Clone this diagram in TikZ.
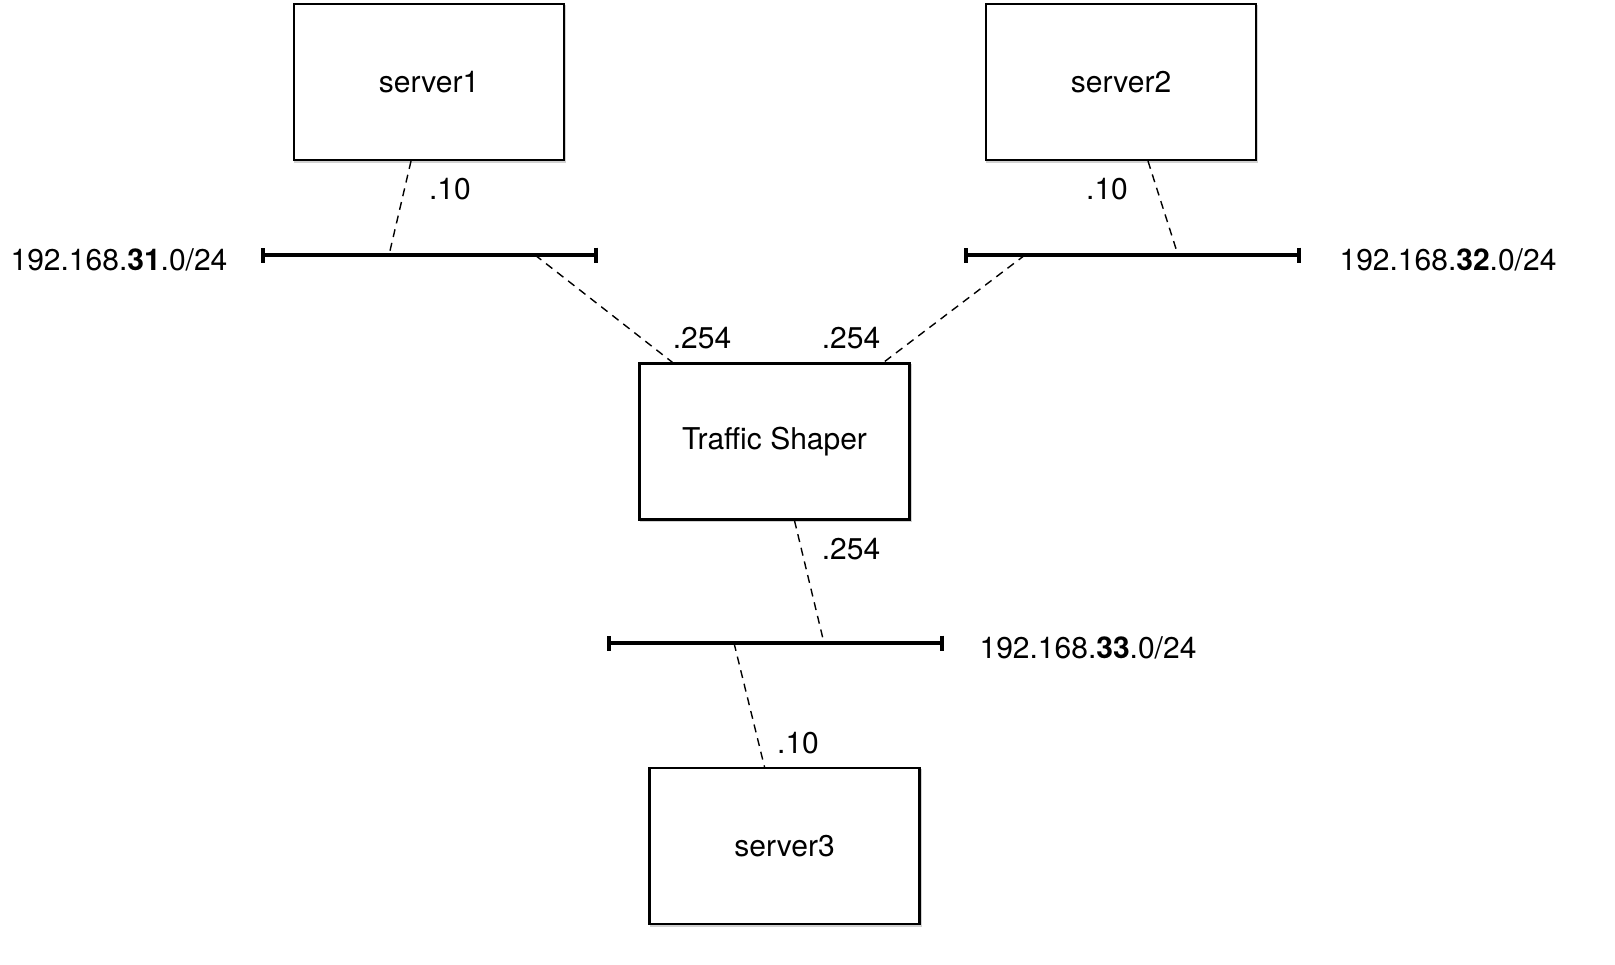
\documentclass[tikz,border=0pt]{standalone}
\usepackage{fontspec}
\setmainfont{TeX Gyre Heros}
\usetikzlibrary{arrows.meta}
\tikzset{host/.style={draw, line width=1.1pt, fill=white, minimum width=135pt, minimum height=78pt,
		preaction={fill=black!30, draw=black!18, line width=1pt, transform canvas={xshift=0.7pt, yshift=-0.9pt}}},
	bus/.style={line width=1.8pt, {Bar[width=7.5pt]}-{Bar[width=7.5pt]}},
	link/.style={draw, line width=0.7pt, dash pattern=on 4pt off 3pt},
	addr/.style={inner sep=0pt}}

\begin{document}
\begin{tikzpicture}[x=0.5pt, y=-0.5pt, font=\fontsize{15}{18}\selectfont]
		\useasboundingbox (0,0) rectangle (1615,964);
		% hosts
		\node[host] (server1) at (429,82) {server1};
		\node[host] (server2) at (1121,82) {server2};
		\node[host] (shaper) at (774.5,441.5) {Traffic Shaper};
		\node[host] (server3) at (784.5,846) {server3};
		
		% networks
		\coordinate (net1w) at (261,255); \coordinate (net1e) at (598,255);
		\coordinate (net2w) at (964,255); \coordinate (net2e) at (1301,255);
		\coordinate (net3w) at (607,643); \coordinate (net3e) at (944,643);
		\draw[bus] (net1w) -- (net1e);
		\draw[bus] (net2w) -- (net2e);
		\draw[bus] (net3w) -- (net3e);
		\node[addr] (lan1) at (119,260) {192.168.\textbf{31}.0/24};
		\node[addr] (lan2) at (1448,260) {192.168.\textbf{32}.0/24};
		\node[addr] (lan3) at (1088,648) {192.168.\textbf{33}.0/24};
		
		% links
		\coordinate (tap1a) at (389,255); \coordinate (tap1b) at (535,255);
		\coordinate (tap2a) at (1178,255); \coordinate (tap2b) at (1025,255);
		\coordinate (tap3a) at (824,643); \coordinate (tap3b) at (734,643);
		\draw[link] ([xshift=-9pt]server1.south) -- (tap1a);
		\draw[link] (tap1b) -- ([xshift=-51pt]shaper.north);
		\draw[link] ([xshift=13.5pt]server2.south) -- (tap2a);
		\draw[link] (tap2b) -- ([xshift=54.5pt]shaper.north);
		\draw[link] ([xshift=10pt]shaper.south) -- (tap3a);
		\draw[link] (tap3b) -- ([xshift=-10pt]server3.north);
		\node[addr] (ip1) at (450,189) {.10};
		\node[addr] (ip2) at (1107,189) {.10};
		\node[addr] (ip3) at (702,338) {.254};
		\node[addr] (ip4) at (851,338) {.254};
		\node[addr] (ip5) at (851,549) {.254};
		\node[addr] (ip6) at (798,743) {.10};
		\end{tikzpicture}
\end{document}
